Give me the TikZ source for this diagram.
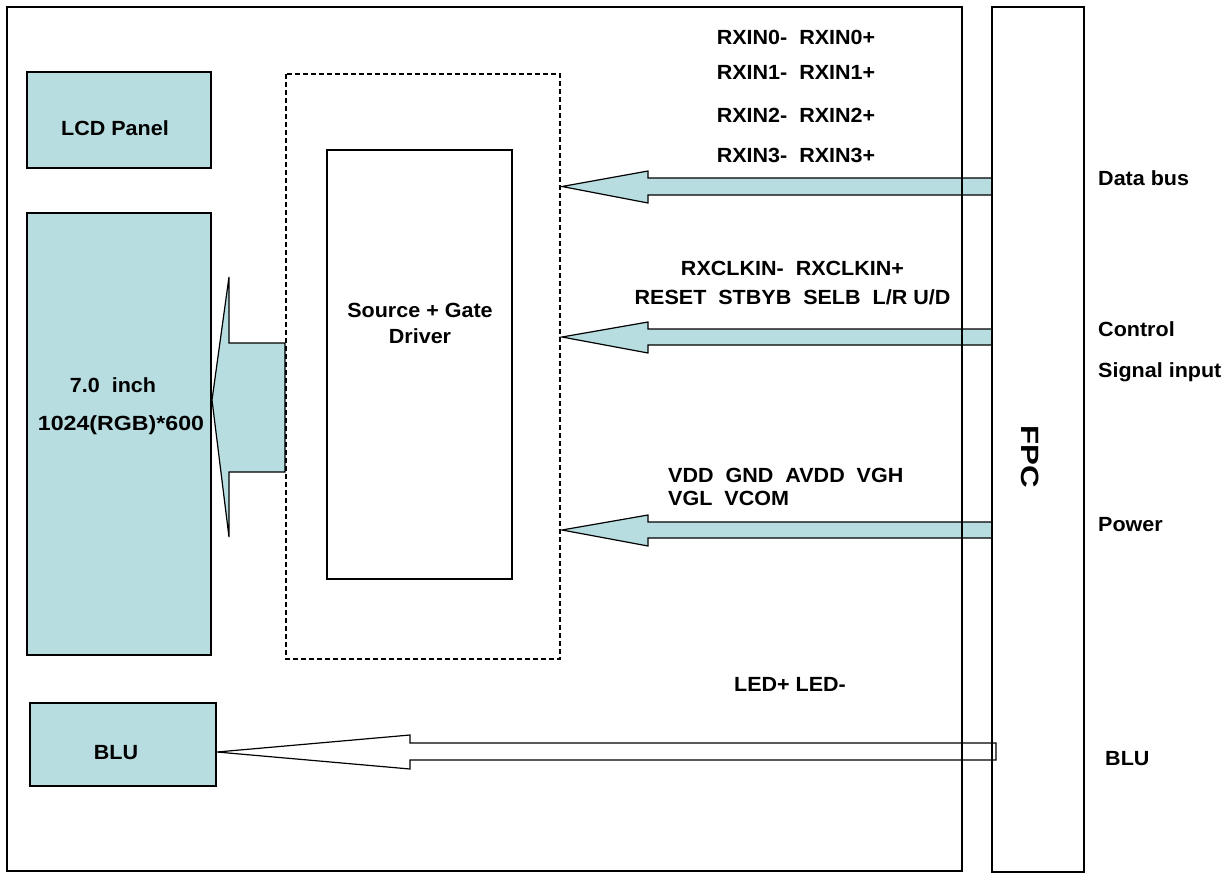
\documentclass[tikz,border=0pt]{standalone}
\usepackage{fontspec}
\setmainfont{Liberation Sans}[FakeStretch=1.05]
\newfontfamily\fpcfont{Liberation Sans}[FakeStretch=1.25]
\newfontfamily\widefont{Liberation Sans}[FakeStretch=1.13]
\definecolor{lb}{RGB}{183,221,224}
\begin{document}
\begin{tikzpicture}[x=1pt,y=-1pt,
  frame/.style={draw=black,line width=1.4pt},
  bluebox/.style={draw=black,line width=1.4pt,fill=lb},
  bigarrow/.style={draw=black,line width=1.2pt,fill=lb,line join=miter},
  whitearrow/.style={draw=black,line width=1.2pt,fill=white,line join=miter},
  lbl/.style={font=\fontsize{20.5}{23}\selectfont\bfseries,inner sep=0pt,anchor=base},
  side/.style={font=\fontsize{20.5}{23}\selectfont\bfseries,inner sep=0pt,anchor=base west}]
\useasboundingbox (0,0) rectangle (1231,875);
\fill[white] (0,0) rectangle (1231,875);
% block arrows
\draw[bigarrow] (992,178) -- (648,178) -- (648,171) -- (562,186.5) -- (648,203) -- (648,195) -- (992,195) -- cycle;
\draw[bigarrow] (992,329) -- (648,329) -- (648,322) -- (562,337) -- (648,353) -- (648,345) -- (992,345) -- cycle;
\draw[bigarrow] (992,522) -- (648,522) -- (648,515) -- (562,530) -- (648,546) -- (648,538) -- (992,538) -- cycle;
\draw[bigarrow] (285,343) -- (229,343) -- (229,277) -- (212,400) -- (229,537) -- (229,472) -- (285,472) -- cycle;
\draw[whitearrow] (996,743) -- (410,743) -- (410,735) -- (217,752) -- (410,769) -- (410,760) -- (996,760) -- cycle;
% frames
\draw[frame] (7,7) rectangle (962,871);
\node[frame,minimum width=92pt,minimum height=865pt,inner sep=0pt] (fpc) at (1038,439.5) {};
\node[rotate=-90,font=\fontsize{25}{27}\fpcfont\bfseries,inner sep=0pt] (fpct) at (1030,457) {FPC};
\draw[black,line width=1.1pt,dashed,dash pattern=on 5pt off 3pt] (286,74) rectangle (560,659);
\node[frame,minimum width=185pt,minimum height=429pt,inner sep=0pt] (drv) at (419.5,364.5) {};
\node[lbl] (drv1) at (420,317) {Source + Gate};
\node[lbl] (drv2) at (420,343) {Driver};
\node[bluebox,minimum width=184pt,minimum height=96pt,inner sep=0pt] (lcd) at (119,120) {};
\node[lbl] (lcdt) at (115,135) {LCD Panel};
\node[bluebox,minimum width=184pt,minimum height=442pt,inner sep=0pt] (panel) at (119,434) {};
\node[lbl] (panel1) at (113,392) {7.0\ \ inch};
\node[lbl,font=\fontsize{20.5}{23}\widefont\bfseries] (panel2) at (121,430) {1024(RGB)*600};
\node[bluebox,minimum width=186pt,minimum height=83pt,inner sep=0pt] (blu) at (123,744.5) {};
\node[lbl] (blut) at (116,759) {BLU};
% labels
\node[lbl] (r0) at (796,45) {RXIN0-\ \ RXIN0+};
\node[lbl] (r1) at (796,80) {RXIN1-\ \ RXIN1+};
\node[lbl] (r2) at (796,122) {RXIN2-\ \ RXIN2+};
\node[lbl] (r3) at (796,162) {RXIN3-\ \ RXIN3+};
\node[lbl] (clk) at (792.5,275) {RXCLKIN-\ \ RXCLKIN+};
\node[lbl] (ctl) at (792.5,304) {RESET\ \ STBYB\ \ SELB\ \ L/R U/D};
\node[lbl,anchor=base west] (pw1) at (668,482) {VDD\ \ GND\ \ AVDD\ \ VGH};
\node[lbl,anchor=base west] (pw2) at (668,505) {VGL\ \ VCOM};
\node[lbl] (led) at (790,691) {LED+ LED-};
\node[side] (s1) at (1098,185) {Data bus};
\node[side] (s2) at (1098,336) {Control};
\node[side] (s3) at (1098,377) {Signal input};
\node[side] (s4) at (1098,531) {Power};
\node[side] (s5) at (1105,765) {BLU};
\end{tikzpicture}
\end{document}
